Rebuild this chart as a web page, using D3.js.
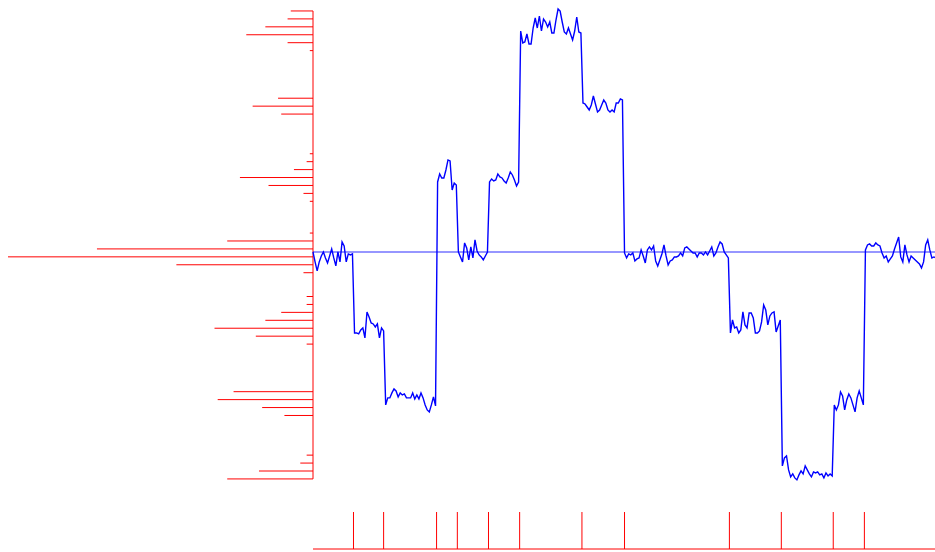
<!DOCTYPE html>
<html>
<head>
<meta charset="utf-8">
<script src="https://cdn.jsdelivr.net/npm/d3@7"></script>
<style>
  html, body { margin: 0; padding: 0; background: #fff; }
  svg { display: block; }
</style>
</head>
<body>
<svg id="chart" width="935" height="552"></svg>
<script>
// signal, read every 2 time steps (t = 0, 2, ... 600) of a 600 sample series
var nSamples = 600;
var sampleStep = 2;
var signal = [
  // level 0
  0, -1.0, -1.9, -1.0, -0.4, 0, -0.6, -1.1, -0.4, 0.3,
  -0.6, -1.4, 0, -1.0, 1.0, 0.6, -1.0, -0.2, -0.3, -0.2,
  // level -1
  -8.1, -8.1, -8.2, -7.8, -7.6, -8.6, -6.0, -6.5, -7.1, -7.2,
  -7.5, -7.2, -8.6, -7.6, -7.9,
  // level -2
  -15.3, -14.6, -14.6, -14.1, -13.7, -13.9, -14.5, -14.1, -14.3, -14.2,
  -14.6, -14.6, -14.6, -14.1, -14.7, -14.3, -14.7, -14.1, -14.6, -15.3,
  -15.8, -16.0, -15.3, -14.5, -15.4,
  // level +1
  7.0, 7.8, 7.4, 7.4, 8.2, 9.2, 9.1, 6.2, 6.9, 6.7,
  // level 0
  0, -0.5, -1.0, 0.9, 0.4, -0.8, 0.5, -0.6, 1.2, 0.1,
  -0.3, -0.5, -0.8, -0.4, 0,
  // level +1
  7.0, 7.3, 7.1, 7.2, 7.8, 7.5, 7.4, 7.1, 6.9, 7.4,
  8.0, 7.7, 7.2, 6.6, 7.0,
  // level +3
  22.1, 20.9, 21.0, 21.8, 20.8, 20.8, 22.4, 23.4, 22.4, 23.6,
  22.1, 23.3, 23.0, 22.5, 23.0, 21.9, 21.9, 23.2, 24.3, 24.1,
  23.0, 22.0, 21.8, 22.4, 21.8, 21.2, 22.1, 23.5, 22.0, 21.9,
  // level +2
  14.9, 14.8, 14.5, 14.2, 14.7, 15.6, 14.8, 14.0, 14.2, 14.7,
  15.2, 14.9, 14.2, 14.0, 14.2, 14.0, 14.9, 14.9, 15.3, 15.2,
  // level 0
  -0.1, -0.6, -0.2, -0.3, -0.1, -0.9, -0.7, -0.6, 0.2, -0.4,
  -1.1, 0.2, 0.5, 0.2, 0.6, -0.9, -1.4, -0.8, -0.2, 0.7,
  -0.4, -1.3, -0.9, -0.8, -0.5, -0.5, -0.4, -0.1, -0.4, 0.4,
  0.5, 0.3, 0.1, -0.1, -0.1, -0.5, -0.1, -0.1, -0.3, 0,
  -0.3, 0.1, 0.5, -0.4, -0.1, 0.5, 1.0, 0.8, 0, -0.3,
  -0.6,
  // level -1
  -8.1, -6.8, -7.6, -7.5, -8.1, -7.8, -6.0, -7.3, -7.6, -6.1,
  -6.1, -6.6, -8.1, -8.1, -7.9, -7.0, -5.3, -5.8, -7.3, -6.4,
  -6.1, -6.0, -8.0, -7.4, -6.8,
  // level -3
  -21.4, -20.6, -20.4, -21.8, -22.5, -22.2, -22.6, -22.8, -22.3, -21.9,
  -22.2, -21.4, -21.8, -22.2, -22.5, -22.0, -22.1, -22.0, -22.3, -22.2,
  -22.6, -22.1, -22.4, -22.2, -22.4,
  // level -2
  -15.3, -15.8, -15.3, -14.0, -14.4, -15.8, -14.8, -14.2, -14.6, -15.3,
  -16.0, -14.6, -13.9, -14.6, -15.3,
  // level 0
  0.2, 0.7, 0.8, 0.6, 0.6, 0.9, 0.7, 0.6, -0.1, -0.6,
  -0.4, -1.0, -0.7, -0.4, 0.3, 0.9, 1.5, -0.5, -1.0, 0.7,
  -0.3, -1.0, -0.4, -0.6, -0.8, -1.0, -1.2, -1.6, -1.0, 0.7,
  1.2, 0.2, -0.6, -0.5, -0.6
];

// detected change points (time index)
var changePoints = [39, 68, 119, 139, 169, 199, 259, 300, 401, 451, 501, 531];

// histogram of signal values, 60 bins, first bin = highest values
var histMax = 24.5, histMin = -23.1;
var histCounts = [
  7, 8, 15, 21, 8, 1, 0, 0, 0, 0,
  0, 11, 19, 10, 0, 0, 0, 0, 1, 2,
  6, 23, 14, 3, 1, 0, 0, 0, 1, 27,
  68, 96, 43, 3, 0, 0, 2, 2, 10, 15,
  31, 18, 2, 0, 0, 0, 0, 0, 25, 30,
  16, 9, 0, 0, 0, 0, 2, 4, 17, 27
];

var svg = d3.select("#chart");
var width = +svg.attr("width"),
    height = +svg.attr("height");

var plotLeft = 313, plotRight = 935;

var x = d3.scaleLinear()
    .domain([0, nSamples - 1])
    .range([plotLeft, plotRight]);

var y = d3.scaleLinear()
    .domain([histMin, histMax])
    .range([482.9, 7]);

var histLen = d3.scaleLinear()
    .domain([0, d3.max(histCounts)])
    .range([plotLeft, 8]);

var binWidth = (histMax - histMin) / histCounts.length;
function binCenter(i) { return histMax - (i + 0.5) * binWidth; }

// histogram (left)
svg.append("g")
  .attr("class", "hist")
  .selectAll("line")
  .data(histCounts)
  .enter().append("line")
    .attr("x1", plotLeft)
    .attr("x2", function(d) { return histLen(d); })
    .attr("y1", function(d, i) { return y(binCenter(i)); })
    .attr("y2", function(d, i) { return y(binCenter(i)); })
    .attr("stroke", "#ff0000")
    .attr("stroke-width", 1);

svg.append("line")
  .attr("x1", plotLeft).attr("x2", plotLeft)
  .attr("y1", y(binCenter(0)))
  .attr("y2", y(binCenter(histCounts.length - 1)))
  .attr("stroke", "#ff0000")
  .attr("stroke-width", 1);

// zero line
svg.append("line")
  .attr("x1", plotLeft).attr("x2", plotRight)
  .attr("y1", y(0)).attr("y2", y(0))
  .attr("stroke", "#0000ff")
  .attr("stroke-opacity", 0.55)
  .attr("stroke-width", 1.5);

// signal
var line = d3.line()
    .x(function(d, i) { return x(i * sampleStep); })
    .y(function(d) { return y(d); });

svg.append("path")
  .datum(signal)
  .attr("d", line)
  .attr("fill", "none")
  .attr("stroke", "#0000ff")
  .attr("stroke-width", 1.4);

// change points (bottom)
var cpBase = 549, cpTop = 512;

svg.append("line")
  .attr("x1", plotLeft).attr("x2", plotRight)
  .attr("y1", cpBase).attr("y2", cpBase)
  .attr("stroke", "#ff0000")
  .attr("stroke-width", 1);

svg.append("g")
  .selectAll("line")
  .data(changePoints)
  .enter().append("line")
    .attr("x1", function(d) { return x(d); })
    .attr("x2", function(d) { return x(d); })
    .attr("y1", cpTop)
    .attr("y2", cpBase)
    .attr("stroke", "#ff0000")
    .attr("stroke-width", 1);
</script>
</body>
</html>
